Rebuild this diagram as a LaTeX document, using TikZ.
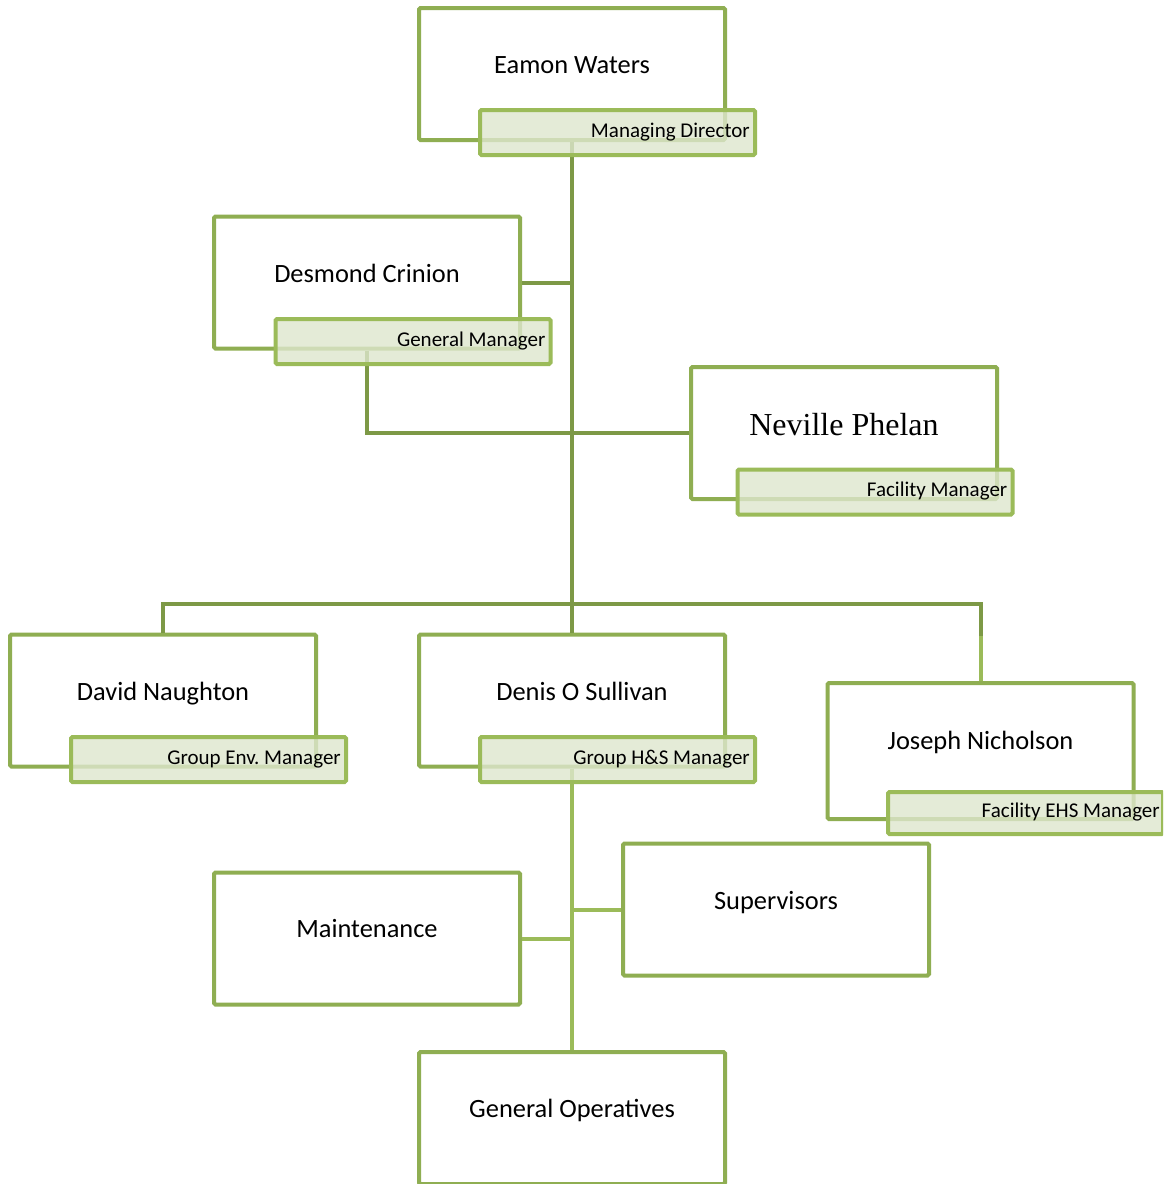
\documentclass[tikz,border=0pt]{standalone}
\usepackage{fontspec}
\setmainfont{Carlito}
\newfontfamily\serifname{Liberation Serif}
\definecolor{boxgreen}{RGB}{143,174,82}
\definecolor{lblgreen}{RGB}{155,187,89}
\definecolor{lblfill}{RGB}{222,231,206}
\definecolor{conngreen}{RGB}{125,153,70}
\tikzset{
  mainbox/.style={draw=boxgreen, line width=4pt, fill=white, rounded corners=1.5pt,
    minimum width=306pt, minimum height=132pt, inner sep=0pt},
  lblbox/.style={draw=lblgreen, line width=4pt, fill=lblfill, fill opacity=0.8,
    rounded corners=1.5pt, minimum width=275pt, minimum height=45pt, inner sep=0pt},
  lbltext/.style={font=\fontsize{21}{24}\selectfont, inner sep=0pt, anchor=base east},
  nametext/.style={font=\fontsize{26.4}{30}\selectfont, inner sep=0pt, anchor=base},
  conn/.style={draw=conngreen, line width=4pt},
  connlight/.style={draw=lblgreen, line width=4pt},
}
\begin{document}
\frenchspacing
\begin{tikzpicture}[x=1pt,y=-1pt]
\clip (0,0) rectangle (1163,1184);
\fill[white] (0,0) rectangle (1163,1184);
% box positions
\coordinate (ewc) at (572,74);
\coordinate (dcc) at (367,282.5);
\coordinate (npc) at (844,433);
\coordinate (dnc) at (163,700.5);
\coordinate (dosc) at (572,700.5);
\coordinate (jnc) at (980.5,751);
\coordinate (mtc) at (367,938.5);
\coordinate (svc) at (776,909.5);
\coordinate (goc) at (572,1118);
% main boxes
\node[mainbox] (ew) at (ewc) {};
\node[mainbox] (dc) at (dcc) {};
\node[mainbox] (np) at (npc) {};
\node[mainbox] (dn) at (dnc) {};
\node[mainbox] (dos) at (dosc) {};
\node[mainbox, minimum height=136pt] (jn) at (jnc) {};
\node[mainbox] (mt) at (mtc) {};
\node[mainbox] (sv) at (svc) {};
\node[mainbox] (go) at (goc) {};
% connectors
\coordinate (bar) at (572,604);
\coordinate (jtop) at (980.5,636);
\draw[conn] (ew.south) -- (dos.north);
\draw[conn] (dc.east) -- (dc.east -| ew.south);
\draw[conn] (dc.south) |- (np.west);
\draw[conn] (dn.north) |- (bar) -| (jtop);
\draw[connlight] (jtop) -- (jn.north);
\draw[connlight] (dos.south) -- (go.north);
\draw[connlight] (mt.east) -- (mt.east -| dos.south);
\draw[connlight] (sv.west) -- (sv.west -| dos.south);
% names
\node[nametext] at ([yshift=-67pt]ew.north) {Eamon Waters};
\node[nametext] at ([yshift=-67.5pt]dc.north) {Desmond Crinion};
\node[inner sep=0pt, anchor=base, font=\serifname\fontsize{32}{36}\selectfont] at ([yshift=-70pt]np.north) {Neville Phelan};
\node[nametext] at ([yshift=-67.5pt]dn.north) {David Naughton};
\node[nametext] at ([xshift=10pt,yshift=-67.5pt]dos.north) {Denis O Sullivan};
\node[nametext] at ([yshift=-68.5pt]jn.north) {Joseph Nicholson};
\node[nametext] at ([yshift=-67pt]mt.north) {Maintenance};
\node[nametext] at ([yshift=-67.5pt]sv.north) {Supervisors};
\node[nametext] at ([yshift=-67.5pt]go.north) {General Operatives};
% title labels
\node[lblbox] (ewl) at (617.5,132.5) {};
\node[lblbox] (dcl) at (413,341.5) {};
\node[lblbox] (npl) at (875,492) {};
\node[lblbox] (dnl) at (208.5,759.5) {};
\node[lblbox] (dosl) at (617.5,759.5) {};
\node[lblbox, minimum height=42pt] (jnl) at (1025.5,813) {};
\node[lbltext] at ([xshift=-7pt,yshift=-29pt]ewl.north east) {Managing Director};
\node[lbltext] at ([xshift=-7pt,yshift=-29pt]dcl.north east) {General Manager};
\node[lbltext] at ([xshift=-7pt,yshift=-29pt]npl.north east) {Facility Manager};
\node[lbltext] at ([xshift=-7pt,yshift=-29pt]dnl.north east) {Group Env. Manager};
\node[lbltext] at ([xshift=-7pt,yshift=-29pt]dosl.north east) {Group H\&S Manager};
\node[lbltext] at ([xshift=-5pt,yshift=-27pt]jnl.north east) {Facility EHS Manager};
\end{tikzpicture}
\end{document}
